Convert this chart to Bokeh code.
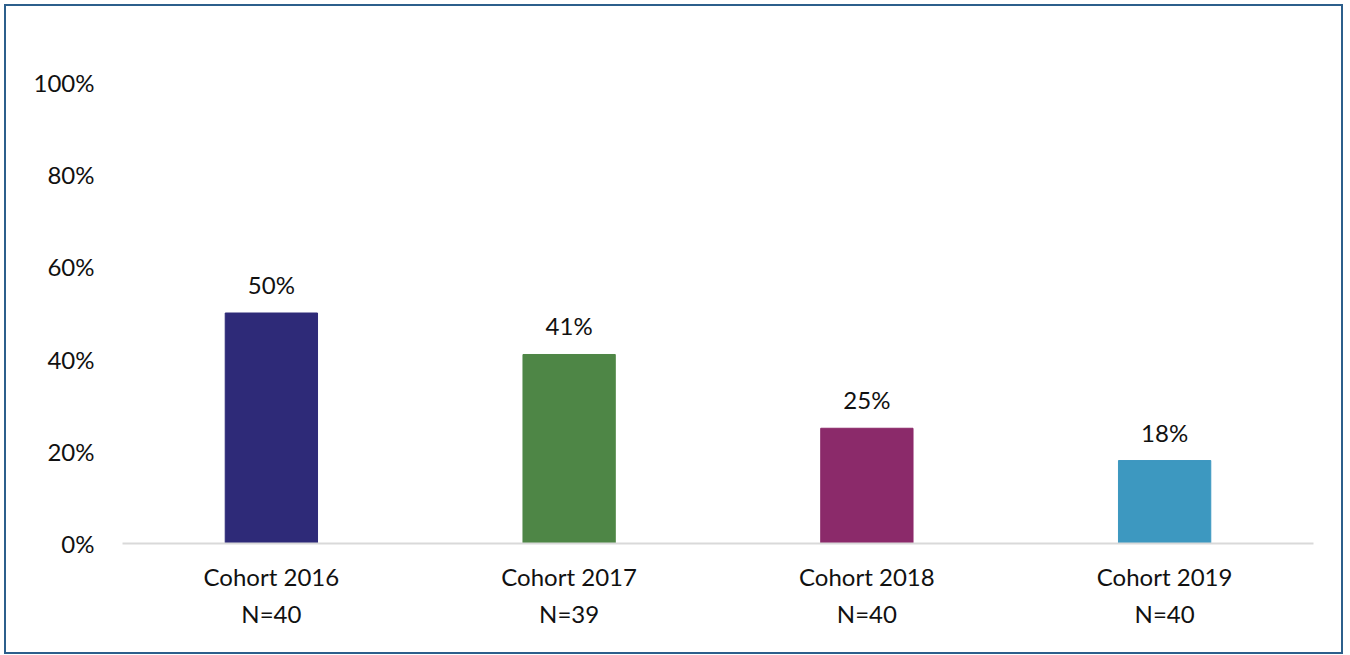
from bokeh.plotting import figure
from bokeh.models import ColumnDataSource, NumeralTickFormatter, FixedTicker, Range1d
from bokeh.core.properties import value
from bokeh.embed import file_html
from bokeh.resources import INLINE

cohorts = ["Cohort 2016", "Cohort 2017", "Cohort 2018", "Cohort 2019"]
sizes = ["N=40", "N=39", "N=40", "N=40"]
shares = [0.50, 0.41, 0.25, 0.18]
colors = ["#2e2a78", "#4e8646", "#8b2a6a", "#3d98c0"]
y_ticks = [0, 0.2, 0.4, 0.6, 0.8, 1.0]

factors = [f"{c}\n{n}" for c, n in zip(cohorts, sizes)]
labels = [f"{round(s * 100)}%" for s in shares]
src = ColumnDataSource(dict(x=factors, top=shares, color=colors, label=labels))

FONT = "Lato"
p = figure(x_range=factors, y_range=Range1d(0, 1.0), width=1339, height=650,
           output_backend="svg", toolbar_location=None,
           min_border_left=116, min_border_right=32, min_border_top=76,
           min_border_bottom=113,
           styles={"border": "2px solid #2c5f8c", "margin-left": "4px",
                   "margin-top": "4px"})
p.outline_line_color = None
p.xgrid.grid_line_color = None
p.ygrid.grid_line_color = None

p.vbar(x="x", top="top", width=0.31, color="color", source=src)
p.text(x="x", y="top", text="label", source=src, text_align="center",
       text_baseline="bottom", y_offset=-14, text_font=value(FONT),
       text_font_size="24px", text_color="#111111")

p.yaxis.ticker = FixedTicker(ticks=y_ticks)
p.yaxis.formatter = NumeralTickFormatter(format="0%")
p.yaxis.axis_line_color = None
p.yaxis.major_tick_line_color = None
p.yaxis.minor_tick_line_color = None
p.yaxis.major_label_standoff = 22
p.yaxis.major_label_text_font = FONT
p.yaxis.major_label_text_font_size = "24px"
p.yaxis.major_label_text_color = "#111111"

p.xaxis.axis_line_color = "#d9d9d9"
p.xaxis.axis_line_width = 2
p.xaxis.major_tick_line_color = None
p.xaxis.minor_tick_line_color = None
p.xaxis.major_label_standoff = 12
p.xaxis.major_label_text_font = FONT
p.xaxis.major_label_text_font_size = "24px"
p.xaxis.major_label_text_color = "#111111"
p.xaxis.major_label_text_line_height = 1.3

open("out.html", "w").write(file_html(p, INLINE))
